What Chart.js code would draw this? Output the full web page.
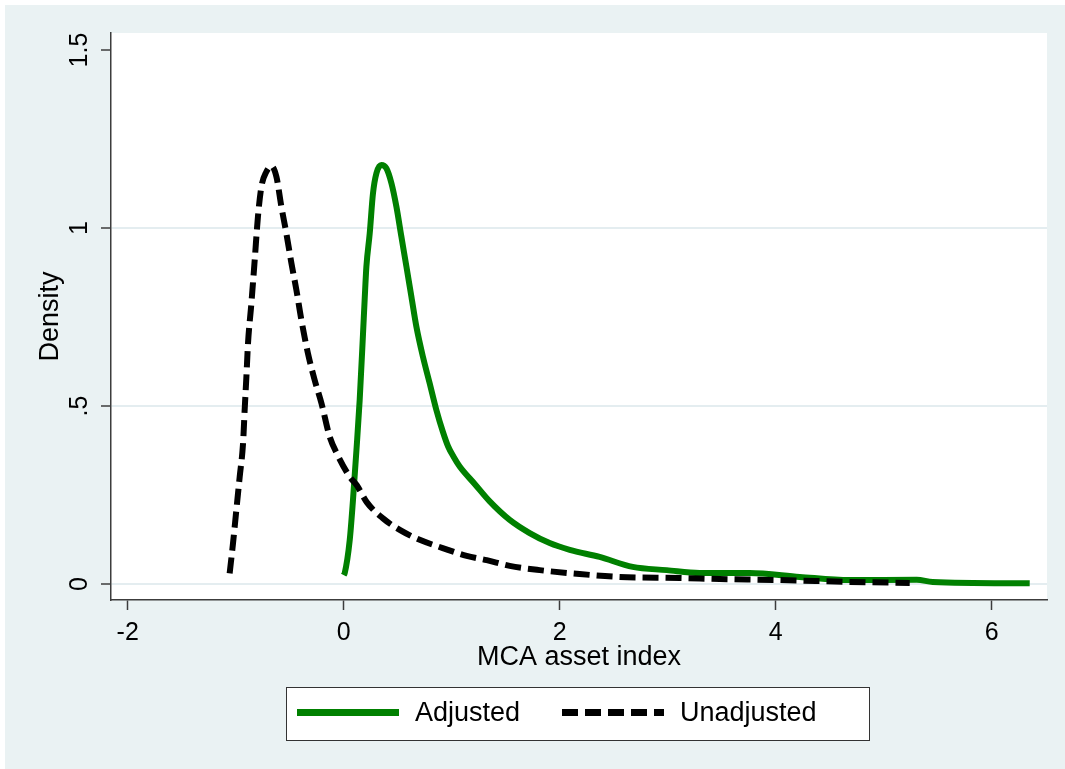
<!DOCTYPE html>
<html>
<head>
<meta charset="utf-8">
<title>MCA asset index density</title>
<script src="https://cdn.jsdelivr.net/npm/chart.js@4"></script>
<style>
  html, body { margin: 0; padding: 0; background: #fff; }
  #wrap { position: absolute; left: 5px; top: 5px; width: 1060px; height: 764px; background: #EAF2F3; }
</style>
</head>
<body>
<div id="wrap"><canvas id="densityChart" width="1060" height="764"></canvas></div>
<script>
const xTickValues = [-2, 0, 2, 4, 6];
const xTickLabels = ['-2', '0', '2', '4', '6'];
const yTickValues = [0, 0.5, 1, 1.5];
const yTickLabels = ['0', '.5', '1', '1.5'];
const seriesNames = ['Adjusted', 'Unadjusted'];

// kernel density estimates, index value -> density
const adjustedX = [0.000, 0.009, 0.056, 0.086, 0.118, 0.148, 0.179, 0.194, 0.210, 0.241, 0.271, 0.303, 0.349,
  0.395, 0.442, 0.488, 0.534, 0.581, 0.627, 0.673, 0.734, 0.796, 0.858, 0.919, 0.966, 1.020, 1.074, 1.213, 1.352,
  1.537, 1.722, 1.907, 2.093, 2.370, 2.676, 2.991, 3.296, 3.759, 4.222, 4.685, 5.306, 5.454, 6.352];
const adjustedY = [0.025, 0.030, 0.124, 0.236, 0.376, 0.517, 0.704, 0.798, 0.891, 0.985, 1.097, 1.154, 1.177,
  1.168, 1.126, 1.060, 0.976, 0.891, 0.807, 0.723, 0.638, 0.564, 0.489, 0.427, 0.387, 0.356, 0.330, 0.281, 0.232,
  0.180, 0.143, 0.115, 0.096, 0.076, 0.048, 0.039, 0.031, 0.031, 0.020, 0.011, 0.012, 0.006, 0.002];

const unadjustedX = [-1.056, -1.025, -0.994, -0.963, -0.932, -0.917, -0.901, -0.886, -0.855, -0.824, -0.794,
  -0.762, -0.716, -0.669, -0.623, -0.577, -0.531, -0.484, -0.438, -0.392, -0.331, -0.269, -0.206, -0.130,
  -0.056, 0.056, 0.120, 0.213, 0.361, 0.519, 0.704, 0.917, 1.139, 1.324, 1.537, 1.815, 2.185, 2.556,
  3.111, 3.481, 4.037, 4.685, 5.241];
const unadjustedY = [0.030, 0.114, 0.208, 0.301, 0.395, 0.489, 0.582, 0.676, 0.788, 0.910, 1.032,
  1.116, 1.158, 1.174, 1.144, 1.060, 0.985, 0.901, 0.826, 0.742, 0.648, 0.573, 0.508, 0.414,
  0.362, 0.301, 0.278, 0.230, 0.185, 0.152, 0.124, 0.101, 0.079, 0.067, 0.051, 0.039, 0.028, 0.020,
  0.017, 0.014, 0.011, 0.006, 0.003];

const toPoints = (xs, ys) => xs.map((x, i) => ({ x: x, y: ys[i] }));

Chart.defaults.font.family = "'Liberation Sans', Arial, Helvetica, sans-serif";
Chart.defaults.color = '#000';

// white plot region on the tinted page
const plotBackground = {
  id: 'plotBackground',
  beforeDraw(chart) {
    const { ctx, chartArea } = chart;
    ctx.save();
    ctx.fillStyle = '#fff';
    ctx.fillRect(chartArea.left, chartArea.top, chartArea.right - chartArea.left, chartArea.bottom - chartArea.top);
    ctx.restore();
  }
};

// boxed legend under the x axis title
const boxLegend = {
  id: 'boxLegend',
  afterDraw(chart) {
    const { ctx, chartArea } = chart;
    const w = 583, h = 53;
    const left = Math.round((chartArea.left + chartArea.right) / 2 - 1.5 - w / 2);
    const top = Math.round(chartArea.bottom + 87);
    const midY = top + h / 2 - 1;
    const sampleX = [11, 276];
    const textX = [129, 394];
    ctx.save();
    ctx.fillStyle = '#fff';
    ctx.fillRect(left, top, w, h);
    ctx.strokeStyle = '#333';
    ctx.lineWidth = 1;
    ctx.strokeRect(left + 0.5, top + 0.5, w, h);
    chart.data.datasets.forEach((ds, i) => {
      ctx.beginPath();
      ctx.setLineDash(ds.borderDash || []);
      ctx.strokeStyle = ds.borderColor;
      ctx.lineWidth = ds.borderWidth + 1;
      ctx.moveTo(left + sampleX[i], midY);
      ctx.lineTo(left + sampleX[i] + 102, midY);
      ctx.stroke();
      ctx.setLineDash([]);
      ctx.fillStyle = '#000';
      ctx.font = "27px 'Liberation Sans', Arial, sans-serif";
      ctx.textBaseline = 'middle';
      ctx.textAlign = 'left';
      ctx.fillText(ds.label, left + textX[i], midY + 1);
    });
    ctx.restore();
  }
};

new Chart(document.getElementById('densityChart'), {
  type: 'line',
  data: {
    datasets: [
      {
        label: seriesNames[0],
        data: toPoints(adjustedX, adjustedY),
        borderColor: '#008000',
        borderWidth: 6,
        pointRadius: 0,
        cubicInterpolationMode: 'monotone',
        fill: false,
        order: 1
      },
      {
        label: seriesNames[1],
        data: toPoints(unadjustedX, unadjustedY),
        borderColor: '#000',
        borderWidth: 6,
        borderDash: [16, 7],
        pointRadius: 0,
        cubicInterpolationMode: 'monotone',
        fill: false,
        order: 0
      }
    ]
  },
  options: {
    responsive: false,
    animation: false,
    layout: { padding: { left: 0, top: 28, right: 18, bottom: 95 } },
    plugins: { legend: { display: false }, tooltip: { enabled: false } },
    scales: {
      x: {
        type: 'linear',
        min: -2.1546,
        max: 6.512,
        afterBuildTicks: (scale) => { scale.ticks = xTickValues.map(v => ({ value: v })); },
        afterFit: (scale) => { scale.height = 74; },
        ticks: {
          font: { size: 25 },
          color: '#000',
          padding: 8,
          maxRotation: 0,
          callback: (v) => xTickLabels[xTickValues.indexOf(v)]
        },
        grid: { drawOnChartArea: false, tickLength: 10, tickColor: '#3c3c3c', tickWidth: 1.5 },
        border: { display: true, color: '#3c3c3c', width: 1.5 },
        title: { display: true, text: 'MCA asset index', font: { size: 27 }, color: '#000', padding: { top: 0, bottom: 0 } }
      },
      y: {
        type: 'linear',
        min: -0.0449,
        max: 1.5478,
        afterBuildTicks: (scale) => { scale.ticks = yTickValues.map(v => ({ value: v })); },
        afterFit: (scale) => { scale.width = 106; },
        ticks: {
          font: { size: 25 },
          color: '#000',
          padding: 4,
          minRotation: 90,
          maxRotation: 90,
          crossAlign: 'center',
          callback: (v) => yTickLabels[yTickValues.indexOf(v)]
        },
        grid: {
          color: (c) => (c.tick && c.tick.value === 1.5) ? 'rgba(0,0,0,0)' : '#E4EDF0',
          lineWidth: 2,
          tickLength: 10,
          tickColor: '#3c3c3c',
          tickWidth: 1.5
        },
        border: { display: true, color: '#3c3c3c', width: 1.5 },
        title: { display: true, text: 'Density', font: { size: 27 }, color: '#000', padding: { top: 29, bottom: 0 } }
      }
    }
  },
  plugins: [plotBackground, boxLegend]
});
</script>
</body>
</html>
